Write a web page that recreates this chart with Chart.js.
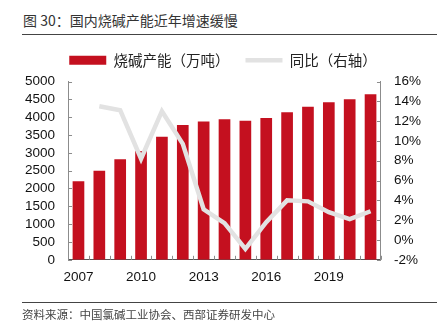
<!DOCTYPE html>
<html>
<head>
<meta charset="utf-8">
<script src="https://cdn.jsdelivr.net/npm/chart.js@4/dist/chart.umd.min.js"></script>
<style>
  body { margin: 0; width: 445px; height: 326px; background: #fff; position: relative; overflow: hidden; }
  #title { position: absolute; left: 23px; top: 10px; font: 14px "Noto Sans CJK SC", sans-serif; color: #333; white-space: nowrap; }
  .rule { position: absolute; left: 22px; width: 415px; height: 1px; background: #444; }
  #source { position: absolute; left: 22px; top: 306px; font: 11.5px "Noto Sans CJK SC", sans-serif; color: #444; white-space: nowrap; }
  #wrap { position: absolute; left: 0; top: 0; width: 445px; height: 309px; }
</style>
</head>
<body>
<div id="title">图 30：国内烧碱产能近年增速缓慢</div>
<div class="rule" style="top:34px"></div>
<div id="wrap"><canvas id="chart"></canvas></div>
<div class="rule" style="top:302px"></div>
<div id="source">资料来源：中国氯碱工业协会、西部证券研发中心</div>
<script>
var years = ['2007', '2008', '2009', '2010', '2011', '2012', '2013', '2014', '2015', '2016', '2017', '2018', '2019', '2020', '2021'];
var capacity = [2200, 2500, 2820, 3050, 3450, 3780, 3880, 3940, 3900, 3975, 4140, 4290, 4420, 4500, 4640];
var yoy = [null, 13.5, 13.1, 8.2, 13.0, 9.7, 3.1, 1.7, -0.9, 1.8, 4.0, 3.9, 2.8, 2.1, 2.9];
var shownYears = ['2007', '2010', '2013', '2016', '2019'];

// inward tick marks on the three axes, plus a bit more room under the legend
var inwardTicks = {
    id: 'inwardTicks',
    beforeInit: function(chart) {
        var leg = chart.legend;
        if (leg) {
            var fit = leg.fit;
            leg.fit = function() { fit.call(this); this.height += 4; };
        }
    },
    afterDraw: function(chart) {
        var ctx = chart.ctx, a = chart.chartArea;
        var y = chart.scales.y, y1 = chart.scales.y1, x = chart.scales.x;
        ctx.save();
        ctx.lineWidth = 1;
        ctx.strokeStyle = '#8c8c8c';
        y.ticks.forEach(function(t) {
            var p = Math.round(y.getPixelForValue(t.value)) + 0.5;
            ctx.beginPath(); ctx.moveTo(a.left, p); ctx.lineTo(a.left + 4, p); ctx.stroke();
        });
        y1.ticks.forEach(function(t) {
            var p = Math.round(y1.getPixelForValue(t.value)) + 0.5;
            ctx.beginPath(); ctx.moveTo(a.right, p); ctx.lineTo(a.right - 4, p); ctx.stroke();
        });
        for (var i = 0; i <= years.length; i++) {
            var px = Math.round(x.getPixelForValue(i - 0.5)) + 0.5;
            ctx.beginPath(); ctx.moveTo(px, a.bottom); ctx.lineTo(px, a.bottom - 4); ctx.stroke();
        }
        ctx.restore();
    }
};

new Chart(document.getElementById('chart'), {
    type: 'bar',
    data: {
        labels: years,
        datasets: [{
            label: '烧碱产能（万吨）',
            data: capacity,
            backgroundColor: '#c4101f',
            barPercentage: 0.56,
            categoryPercentage: 1,
            pointStyle: 'rect',
            yAxisID: 'y',
            order: 2
        }, {
            type: 'line',
            label: '同比（右轴）',
            data: yoy,
            borderColor: '#e2e2e2',
            backgroundColor: '#e2e2e2',
            borderWidth: 4.5,
            pointRadius: 0,
            tension: 0,
            pointStyle: 'line',
            yAxisID: 'y1',
            order: 1
        }]
    },
    options: {
        responsive: true,
        maintainAspectRatio: false,
        animation: false,
        layout: { padding: { top: 37, left: 12, right: 11, bottom: 15 } },
        plugins: {
            tooltip: { enabled: false },
            legend: {
                position: 'top',
                labels: {
                    usePointStyle: true,
                    pointStyleWidth: 37,
                    boxHeight: 9,
                    padding: 16,
                    color: '#222',
                    font: { family: '"Noto Sans CJK SC"', size: 14.5 },
                    sort: function(a, b) { return a.datasetIndex - b.datasetIndex; }
                }
            }
        },
        scales: {
            x: {
                grid: { display: false, drawTicks: false },
                border: { color: '#555' },
                ticks: {
                    autoSkip: false,
                    maxRotation: 0,
                    padding: 9,
                    color: '#111',
                    font: { family: '"Liberation Sans"', size: 13.5 },
                    callback: function(v) {
                        var lab = this.getLabelForValue(v);
                        return shownYears.indexOf(lab) >= 0 ? lab : '';
                    }
                }
            },
            y: {
                position: 'left',
                min: 0,
                max: 5000,
                grid: { display: false, drawTicks: false },
                border: { color: '#8c8c8c' },
                ticks: {
                    stepSize: 500,
                    autoSkip: false,
                    padding: 13,
                    color: '#111',
                    font: { family: '"Liberation Sans"', size: 13.5 },
                    callback: function(v) { return String(v); }
                }
            },
            y1: {
                position: 'right',
                min: -2,
                max: 16,
                grid: { display: false, drawTicks: false },
                border: { color: '#8c8c8c' },
                ticks: {
                    stepSize: 2,
                    autoSkip: false,
                    padding: 13,
                    color: '#111',
                    font: { family: '"Liberation Sans"', size: 13.5 },
                    callback: function(v) { return v + '%'; }
                }
            }
        }
    },
    plugins: [inwardTicks]
});
</script>
</body>
</html>
